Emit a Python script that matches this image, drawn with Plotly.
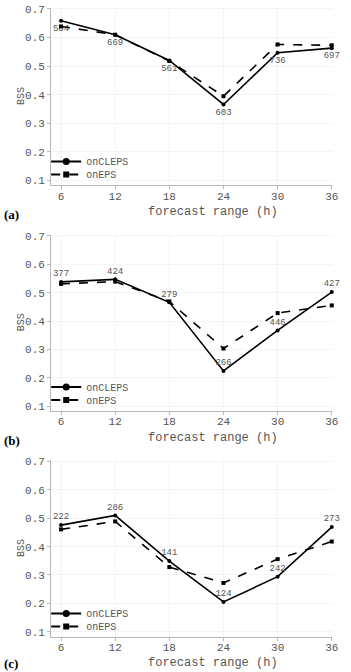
import plotly.graph_objects as go

hours = [6, 12, 18, 24, 30, 36]

a_cleps = [0.659, 0.610, 0.520, 0.366, 0.547, 0.563]
a_eps = [0.639, 0.610, 0.518, 0.395, 0.576, 0.573]
a_counts = ["584", "669", "561", "603", "736", "697"]

b_cleps = [0.538, 0.547, 0.466, 0.224, 0.367, 0.502]
b_eps = [0.531, 0.539, 0.469, 0.303, 0.428, 0.455]
b_counts = ["377", "424", "279", "266", "446", "427"]

c_cleps = [0.476, 0.510, 0.349, 0.205, 0.294, 0.469]
c_eps = [0.461, 0.489, 0.328, 0.272, 0.356, 0.418]
c_counts = ["222", "286", "141", "124", "242", "273"]

y_ticks = [0.1, 0.2, 0.3, 0.4, 0.5, 0.6, 0.7]
panel_labels = ["(a)", "(b)", "(c)"]
x_title = "forecast range (h)"
y_title = "BSS"
names = ["onCLEPS", "onEPS"]

W, H = 351, 672
MONO = "Liberation Mono"
GREY = "#555555"
AXC = "#b8b8b8"

# (cleps, eps, counts, text position, (bottom px, top px), title px, panel label px, legend rows px)
panels = [
    (a_cleps, a_eps, a_counts, "bottom center", (183.0, 3.6), 210, 212, (159, 172)),
    (b_cleps, b_eps, b_counts, "top center", (410.6, 232.6), 438, 440, (386.5, 399.5)),
    (c_cleps, c_eps, c_counts, "top center", (638.2, 460.3), 664.5, 665.5, (615, 628)),
]

fig = go.Figure()
layout = dict(
    width=W, height=H, margin=dict(l=0, r=0, t=0, b=0),
    paper_bgcolor="white", plot_bgcolor="white",
    showlegend=True, annotations=[],
)

leg_idx = 0
for i, (cl, ep, cnt, tpos, (bot, top), tit_y, lab_y, leg_rows) in enumerate(panels):
    sfx = "" if i == 0 else str(i + 1)
    xa, ya = "x" + sfx, "y" + sfx
    fig.add_trace(go.Scatter(
        x=hours, y=cl, mode="lines+markers+text", text=cnt, textposition=tpos,
        textfont=dict(family=MONO, size=9, color=GREY),
        line=dict(color="black", width=1.6), marker=dict(symbol="circle", size=4, color="black"),
        xaxis=xa, yaxis=ya, showlegend=False, cliponaxis=False))
    fig.add_trace(go.Scatter(
        x=hours, y=ep, mode="lines+markers",
        line=dict(color="black", width=1.6, dash="dash"), marker=dict(symbol="square", size=4, color="black"),
        xaxis=xa, yaxis=ya, showlegend=False, cliponaxis=False))
    styles = [
        (dict(color="black", width=2), dict(symbol="circle", size=7, color="black")),
        (dict(color="black", width=2, dash="dash"), dict(symbol="square", size=6, color="black")),
    ]
    for k in range(2):
        leg_idx += 1
        leg = "legend" if leg_idx == 1 else "legend" + str(leg_idx)
        fig.add_trace(go.Scatter(
            x=[None], y=[None], mode="lines+markers", name=names[k],
            line=styles[k][0], marker=styles[k][1],
            xaxis=xa, yaxis=ya, legend=leg))
        layout[leg] = dict(
            x=47 / W, y=1 - leg_rows[k] / H, xanchor="left", yanchor="middle",
            bgcolor="rgba(0,0,0,0)", font=dict(family=MONO, size=10, color=GREY),
            itemwidth=30, borderwidth=0)

    layout["xaxis" + sfx] = dict(
        domain=[52 / W, 338 / W], anchor=ya, range=[4.9, 36.05],
        tickvals=hours, ticktext=[str(h) for h in hours],
        tickfont=dict(family=MONO, size=11, color=GREY), ticklabelstandoff=-3,
        showline=True, linecolor=AXC, linewidth=1, ticks="outside", ticklen=3, tickcolor=AXC,
        showgrid=True, gridcolor="#f5f5f5", zeroline=False)
    layout["yaxis" + sfx] = dict(
        domain=[1 - bot / H, 1 - top / H], anchor=xa, range=[0.083, 0.705],
        tickvals=y_ticks, tickformat=".1f",
        tickfont=dict(family=MONO, size=11, color=GREY),
        showline=True, linecolor=AXC, linewidth=1, ticks="outside", ticklen=3, tickcolor=AXC,
        showgrid=True, gridcolor="#f5f5f5", zeroline=False)
    layout["annotations"].append(dict(
        text=x_title, xref="paper", yref="paper", x=217 / W, y=1 - tit_y / H,
        xanchor="center", yanchor="middle", showarrow=False,
        font=dict(family=MONO, size=12, color=GREY)))
    layout["annotations"].append(dict(
        text=y_title, xref="paper", yref="paper", x=22 / W, y=1 - ((bot + top) / 2) / H,
        xanchor="center", yanchor="middle", textangle=-90, showarrow=False,
        font=dict(family=MONO, size=10, color=GREY)))
    layout["annotations"].append(dict(
        text="<b>" + panel_labels[i] + "</b>", xref="paper", yref="paper", x=2 / W, y=1 - lab_y / H,
        xanchor="left", yanchor="middle", showarrow=False,
        font=dict(family="Liberation Serif", size=13, color="black")))

fig.update_layout(**layout)
fig.write_html("out.html")
